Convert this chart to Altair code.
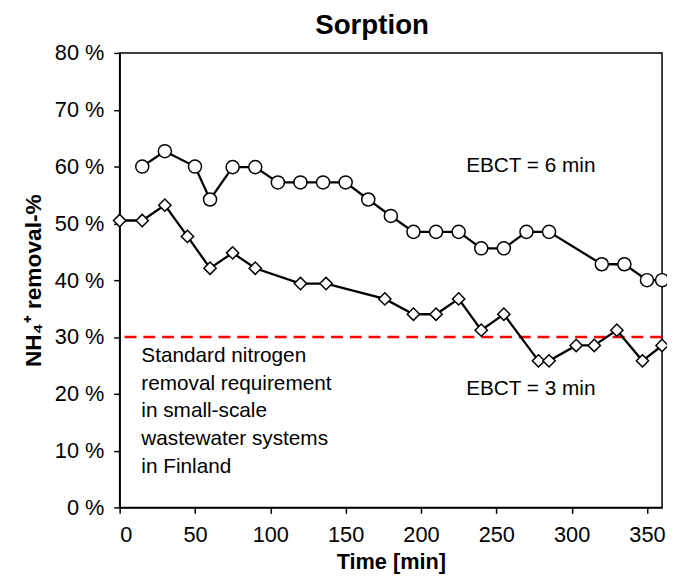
import altair as alt
import pandas as pd

# EBCT = 6 min (circles)
t6 = [15, 30, 50, 60, 75, 90, 105, 120, 135, 150, 165, 180, 195, 210, 225, 240, 255, 270, 285, 320, 335, 350, 360]
r6 = [60.0, 62.7, 60.0, 54.2, 59.9, 59.9, 57.2, 57.2, 57.2, 57.2, 54.2, 51.3, 48.5, 48.5, 48.5, 45.6, 45.6, 48.5, 48.5, 42.8, 42.8, 40.0, 40.0]
# EBCT = 3 min (diamonds)
t3 = [0, 15, 30, 45, 60, 75, 90, 120, 137, 176, 195, 210, 225, 240, 255, 278, 285, 303, 315, 330, 347, 360]
r3 = [50.5, 50.5, 53.2, 47.7, 42.1, 44.8, 42.1, 39.4, 39.4, 36.7, 34.0, 34.0, 36.7, 31.2, 34.0, 25.8, 25.8, 28.5, 28.5, 31.2, 25.8, 28.5]

requirement = [30]
x_ticks = [0, 50, 100, 150, 200, 250, 300, 350]
y_ticks = [0, 10, 20, 30, 40, 50, 60, 70, 80]

label_text = ["EBCT = 6 min", "EBCT = 3 min"]
label_x = [230, 230]
label_y = [60.0, 20.9]

note_lines = ["Standard nitrogen", "removal requirement", "in small-scale", "wastewater systems", "in Finland"]
note_x = [14.4] * 5
note_y = [26.6, 21.7, 16.9, 12.0, 7.1]

FONT = "Liberation Sans"

df6 = pd.DataFrame({"t": t6, "r": r6})
df3 = pd.DataFrame({"t": t3, "r": r3})
dfr = pd.DataFrame({"r": requirement})
dfl = pd.DataFrame({"t": label_x, "r": label_y, "txt": label_text})
dfn = pd.DataFrame({"t": note_x, "r": note_y, "txt": note_lines})

xs = alt.Scale(domain=[0, 360], nice=False, zero=False)
ys = alt.Scale(domain=[0, 80], nice=False)

xenc = alt.X("t:Q", scale=xs, axis=alt.Axis(
    values=x_ticks, title="Time [min]", titleFontWeight="bold", titleFontSize=22,
    titleY=62, titleBaseline="alphabetic", labelPadding=12))
yenc = alt.Y("r:Q", scale=ys, axis=alt.Axis(
    values=y_ticks, labelExpr="datum.value + ' %'", title="NH₄⁺ removal-%",
    titleFontWeight="bold", titleFontSize=23, titleX=-87, titleY=230,
    titleBaseline="middle", labelPadding=10))

base6 = alt.Chart(df6).encode(x=xenc, y=yenc)
base3 = alt.Chart(df3).encode(x=xenc, y=yenc)

line6 = base6.mark_line(color="black", strokeWidth=2.3)
pts6 = base6.mark_point(shape="circle", size=175, filled=True, fill="white",
                        stroke="black", strokeWidth=1.5, opacity=1)
line3 = base3.mark_line(color="black", strokeWidth=2.3)
pts3 = base3.mark_point(shape="diamond", size=155, filled=True, fill="white",
                        stroke="black", strokeWidth=1.5, opacity=1)

rule = alt.Chart(dfr).mark_rule(color="#ff0000", strokeWidth=2.5, strokeDash=[12, 7]).encode(
    y=alt.Y("r:Q", scale=ys))

labels = alt.Chart(dfl).mark_text(align="left", baseline="middle", font=FONT, fontSize=21,
                                  color="black").encode(
    x=alt.X("t:Q", scale=xs), y=alt.Y("r:Q", scale=ys), text="txt:N")
notes = alt.Chart(dfn).mark_text(align="left", baseline="middle", font=FONT, fontSize=21,
                                 color="black").encode(
    x=alt.X("t:Q", scale=xs), y=alt.Y("r:Q", scale=ys), text="txt:N")

chart = alt.layer(rule, line6, line3, pts6, pts3, labels, notes).properties(
    width=549, height=460,
    autosize=alt.AutoSizeParams(type="none"),
    padding={"left": 113, "top": 42, "right": 5, "bottom": 68},
    title=alt.TitleParams("Sorption", font=FONT, fontSize=28, fontWeight="bold",
                          color="black", offset=2, dx=-19, anchor="middle"),
).configure_view(
    stroke="black", strokeWidth=1.5
).configure_axis(
    grid=False, domainColor="black", domainWidth=1.5, tickColor="black", tickWidth=1.5,
    tickSize=6, labelFont=FONT, labelFontSize=22, labelColor="black",
    titleFont=FONT, titleColor="black"
)

chart.save("out.html", embed_options={"renderer": "svg", "actions": False})
